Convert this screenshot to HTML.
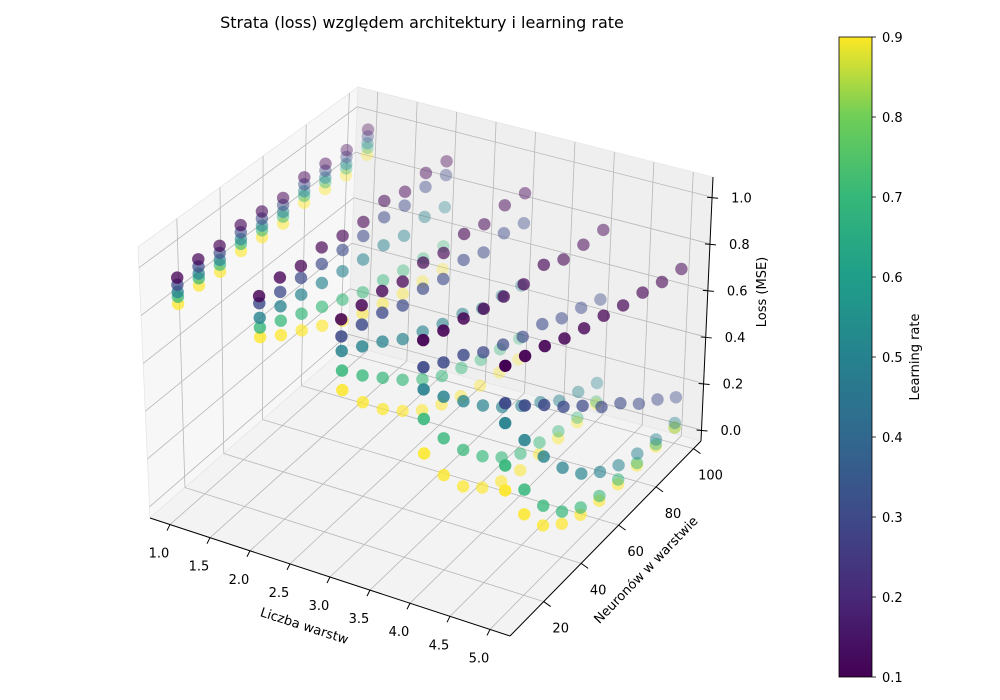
<!DOCTYPE html>
<html><head><meta charset="utf-8"><style>
body{margin:0;background:#fff}
svg{display:block;font-family:"DejaVu Sans","Liberation Sans",sans-serif}
</style></head><body>
<svg id="chart" width="1000" height="700" viewBox="0 0 1000 700">
<defs><linearGradient id="vir" x1="0" y1="1" x2="0" y2="0">
<stop offset="0" stop-color="#440154"/><stop offset="0.125" stop-color="#482878"/><stop offset="0.25" stop-color="#3e4a89"/><stop offset="0.375" stop-color="#31688e"/><stop offset="0.5" stop-color="#26828e"/><stop offset="0.625" stop-color="#1f9e89"/><stop offset="0.75" stop-color="#35b779"/><stop offset="0.875" stop-color="#6ece58"/><stop offset="1" stop-color="#fde725"/></linearGradient></defs>
<text x="422" y="28" font-size="16" text-anchor="middle">Strata (loss) względem architektury i learning rate</text>
<g id="panes"></g><g id="grid"></g><g id="axes"></g><g id="points"></g>
<rect x="839" y="37" width="33" height="640" fill="url(#vir)" stroke="#000" stroke-width="0.8"/>
<g id="cbticks"></g>
<text transform="translate(919,357) rotate(-90)" font-size="13" text-anchor="middle">Learning rate</text>
<text transform="translate(303,630) rotate(18)" font-size="13" text-anchor="middle">Liczba warstw</text>
<text transform="translate(649,573) rotate(-46)" font-size="13" text-anchor="middle">Neuronów w warstwie</text>
<text transform="translate(766,292) rotate(-90)" font-size="13" text-anchor="middle">Loss (MSE)</text>
</svg>
<script>
const layers=[1,2,3,4,5];
const neurons=[10,20,30,40,50,60,70,80,90,100];
const lrs=[0.1,0.3,0.5,0.7,0.9];
const lossLr01=[[0.93,0.94,0.93,0.95,0.94,0.93,0.95,0.94,0.93,0.95],[0.95,0.96,0.94,0.95,0.93,0.92,0.94,0.91,0.92,0.90],[0.95,0.94,0.93,0.90,0.91,0.88,0.89,0.86,0.87,0.85],[0.96,0.93,0.91,0.88,0.86,0.84,0.85,0.80,0.79,0.78],[0.95,0.92,0.89,0.85,0.82,0.80,0.77,0.75,0.72,0.70]];
const lossLr03=[[0.90,0.91,0.90,0.92,0.91,0.90,0.92,0.91,0.90,0.92],[0.92,0.90,0.89,0.88,0.87,0.86,0.87,0.85,0.86,0.84],[0.88,0.86,0.84,0.80,0.80,0.77,0.78,0.74,0.75,0.72],[0.85,0.80,0.76,0.70,0.66,0.62,0.60,0.55,0.52,0.48],[0.80,0.72,0.65,0.57,0.50,0.42,0.36,0.28,0.22,0.15]];
const lossLr05=[[0.87,0.88,0.87,0.89,0.88,0.87,0.89,0.88,0.87,0.89],[0.86,0.84,0.82,0.80,0.78,0.76,0.75,0.72,0.73,0.70],[0.82,0.77,0.72,0.66,0.62,0.58,0.55,0.50,0.48,0.45],[0.76,0.66,0.57,0.48,0.40,0.33,0.27,0.20,0.16,0.12],[0.72,0.58,0.44,0.32,0.22,0.15,0.10,0.07,0.05,0.04]];
const lossLr07=[[0.85,0.86,0.85,0.87,0.86,0.85,0.87,0.86,0.85,0.87],[0.82,0.78,0.74,0.70,0.66,0.62,0.60,0.57,0.55,0.53],[0.74,0.65,0.57,0.49,0.42,0.36,0.32,0.28,0.25,0.22],[0.64,0.49,0.37,0.27,0.19,0.13,0.10,0.07,0.05,0.04],[0.55,0.38,0.24,0.14,0.08,0.05,0.04,0.03,0.03,0.02]];
const lossLr09=[[0.82,0.83,0.82,0.84,0.83,0.82,0.84,0.83,0.82,0.84],[0.78,0.72,0.67,0.62,0.57,0.53,0.50,0.47,0.45,0.43],[0.66,0.54,0.44,0.36,0.29,0.24,0.20,0.17,0.15,0.13],[0.50,0.34,0.22,0.14,0.09,0.06,0.05,0.04,0.03,0.03],[0.45,0.28,0.16,0.09,0.05,0.03,0.02,0.02,0.02,0.02]];
const lossSeries=[lossLr01,lossLr03,lossLr05,lossLr07,lossLr09];
const xTicks=["1.0","1.5","2.0","2.5","3.0","3.5","4.0","4.5","5.0"];
const yTicks=["20","40","60","80","100"];
const zTicks=["0.0","0.2","0.4","0.6","0.8","1.0"];
const cbTicks=["0.1","0.2","0.3","0.4","0.5","0.6","0.7","0.8","0.9"];

const NS="http://www.w3.org/2000/svg";
const XL=[0.75,5.25],YL=[2,104],ZL=[-0.047,1.087];
const C=[[[[150,518],[138,247]],[[348,345],[358,87]]],[[[510,636],[510,351]],[[701,441],[713,177]]]];
function lerp(a,b,t){return [a[0]+(b[0]-a[0])*t,a[1]+(b[1]-a[1])*t];}
function nrm(x,y,z){return [(x-XL[0])/(XL[1]-XL[0]),(y-YL[0])/(YL[1]-YL[0]),(z-ZL[0])/(ZL[1]-ZL[0])];}
function projN(fx,fy,fz){
 const c00=lerp(C[0][0][0],C[1][0][0],fx),c01=lerp(C[0][0][1],C[1][0][1],fx),
 c10=lerp(C[0][1][0],C[1][1][0],fx),c11=lerp(C[0][1][1],C[1][1][1],fx);
 const b=lerp(c00,c10,fy),t=lerp(c01,c11,fy);return lerp(b,t,fz);}
function proj(x,y,z){const n=nrm(x,y,z);return projN(n[0],n[1],n[2]);}
function mk(tag,attrs,parent){const e=document.createElementNS(NS,tag);for(const k in attrs)e.setAttribute(k,attrs[k]);parent.appendChild(e);return e;}
function pts(a){return a.map(p=>p[0].toFixed(1)+","+p[1].toFixed(1)).join(" ");}
const panes=document.getElementById('panes'),grid=document.getElementById('grid'),axes=document.getElementById('axes');
let e;
e=mk('polygon',{points:pts([projN(0,0,0),projN(0,1,0),projN(0,1,1),projN(0,0,1)]),fill:'#f7f7f7',stroke:'#e6e6e6','stroke-width':0.8},panes);


e=mk('polygon',{points:pts([projN(0,1,0),projN(1,1,0),projN(1,1,1),projN(0,1,1)]),fill:'#efefef',stroke:'#e6e6e6','stroke-width':0.8},panes);


e=mk('polygon',{points:pts([projN(0,0,0),projN(1,0,0),projN(1,1,0),projN(0,1,0)]),fill:'#f3f3f3',stroke:'#e6e6e6','stroke-width':0.8},panes);


function gl(a,b,name){const l=mk('line',{x1:a[0],y1:a[1],x2:b[0],y2:b[1],stroke:'#b8b8b8','stroke-width':0.8},grid);

}
xTicks.forEach(t=>{const v=+t;gl(proj(v,YL[0],ZL[0]),proj(v,YL[1],ZL[0]),'x-gridline');gl(proj(v,YL[1],ZL[0]),proj(v,YL[1],ZL[1]),'x-gridline');});
yTicks.forEach(t=>{const v=+t;gl(proj(XL[0],v,ZL[0]),proj(XL[1],v,ZL[0]),'y-gridline');gl(proj(XL[0],v,ZL[0]),proj(XL[0],v,ZL[1]),'y-gridline');});
zTicks.forEach(t=>{const v=+t;gl(proj(XL[0],YL[0],v),proj(XL[0],YL[1],v),'z-gridline');gl(proj(XL[0],YL[1],v),proj(XL[1],YL[1],v),'z-gridline');});
function al(a,b,name){const l=mk('line',{x1:a[0],y1:a[1],x2:b[0],y2:b[1],stroke:'#000','stroke-width':1},axes);

}
al(projN(0,0,0),projN(1,0,0),'x-axis-line');
al(projN(1,0,0),projN(1,1,0),'y-axis-line');
al(projN(1,1,0),projN(1,1,1),'z-axis-line');
function txt(s,x,y,anchor,name){const t=mk('text',{x:x,y:y,'font-size':13,'text-anchor':anchor},axes);t.textContent=s;

}
xTicks.forEach(t=>{const p=proj(+t,YL[0],ZL[0]);al(p,[p[0]-3,p[1]+6],'x-tick');txt(t,p[0]-11,p[1]+33,'middle','x-tick-label');});
yTicks.forEach(t=>{const p=proj(XL[1],+t,ZL[0]);al(p,[p[0]+7,p[1]+5],'y-tick');txt(t,p[0]+17,p[1]+31,'middle','y-tick-label');});
zTicks.forEach(t=>{const p=proj(XL[1],YL[1],+t);al([p[0]-5,p[1]],[p[0]+6,p[1]+1],'z-tick');txt(t,p[0]+19,p[1]+5,'start','z-tick-label');});
const cb=document.getElementById('cbticks');
cbTicks.forEach(t=>{const y=677-(+t-0.1)/0.8*640;const l=mk('line',{x1:872,y1:y,x2:876,y2:y,stroke:'#000','stroke-width':0.8},cb);


const tx=mk('text',{x:882,y:y+5,'font-size':13},cb);tx.textContent=t;

});
const vir=[[0,'#440154'],[0.125,'#482878'],[0.25,'#3e4a89'],[0.375,'#31688e'],[0.5,'#26828e'],[0.625,'#1f9e89'],[0.75,'#35b779'],[0.875,'#6ece58'],[1,'#fde725']];
function hx(c){return [1,3,5].map(i=>parseInt(c.substr(i,2),16));}
function cmap(t){for(let i=0;i<vir.length-1;i++){if(t<=vir[i+1][0]){const u=(t-vir[i][0])/(vir[i+1][0]-vir[i][0]);const a=hx(vir[i][1]),b=hx(vir[i+1][1]);return 'rgb('+a.map((v,k)=>Math.round(v+(b[k]-v)*u)).join(',')+')';}}return vir[vir.length-1][1];}
const P=[];
lrs.forEach((lr,k)=>layers.forEach((L,i)=>neurons.forEach((n,j)=>{const z=lossSeries[k][i][j];const f=nrm(L,n,z);const d=-(0.433*f[0]*4-0.75*f[1]*4+0.5*f[2]*3);P.push({p:proj(L,n,z),d:d,c:cmap((lr-0.1)/0.8)});})));
const dmin=Math.min(...P.map(q=>q.d)),dmax=Math.max(...P.map(q=>q.d));
P.sort((a,b)=>b.d-a.d);
const pg=document.getElementById('points');
P.forEach(q=>{const a=1-0.7*(q.d-dmin)/(dmax-dmin);const c=mk('circle',{cx:q.p[0].toFixed(1),cy:q.p[1].toFixed(1),r:6.2,fill:q.c,'fill-opacity':a.toFixed(2)},pg);

});
</script>
</body></html>
